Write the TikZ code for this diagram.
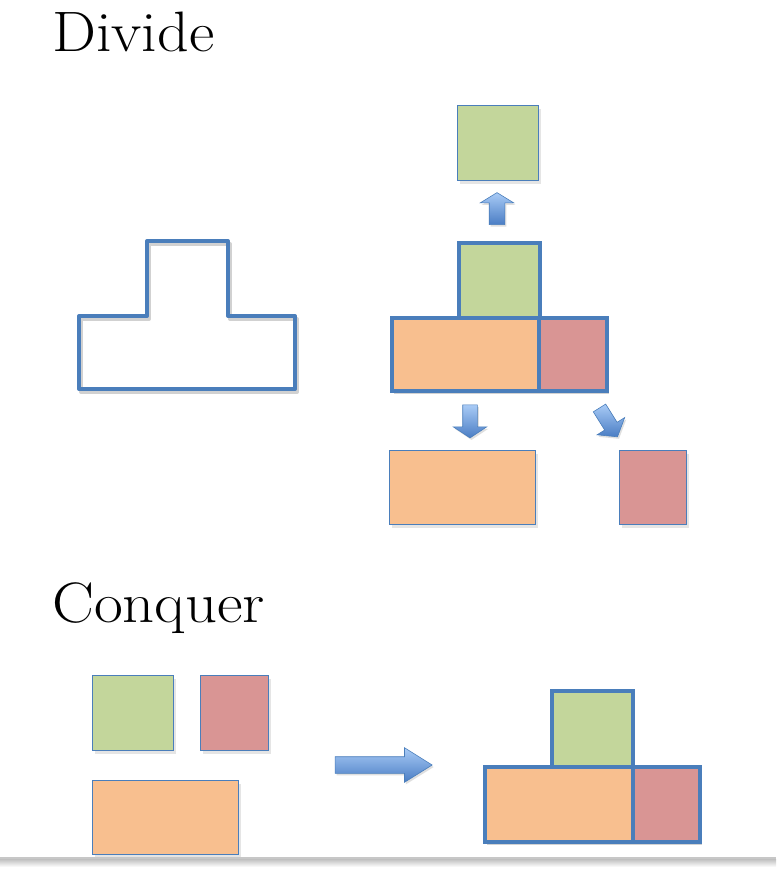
\documentclass[tikz,border=0pt]{standalone}
\usetikzlibrary{shapes.arrows,shadows}
\definecolor{edge}{HTML}{4A7EBB}
\definecolor{pgreen}{HTML}{C3D69B}
\definecolor{porange}{HTML}{F8BF8F}
\definecolor{pred}{HTML}{D99594}
\definecolor{alight}{HTML}{A9CBF6}
\definecolor{adark}{HTML}{4A7DC4}
\tikzset{
    piece/.style={draw=edge, anchor=north west, inner sep=0pt},
    loose/.style={piece, line width=1.4pt, drop shadow={shadow xshift=2pt, shadow yshift=-3pt, opacity=0.2}},
    joined/.style={piece, line width=3.5pt, drop shadow={shadow xshift=2pt, shadow yshift=-3pt, opacity=0.35}},
    gsq/.style={fill=pgreen, minimum width=81pt, minimum height=75pt},
    rsq/.style={fill=pred, minimum width=67pt, minimum height=74pt},
    orect/.style={fill=porange, minimum width=146pt, minimum height=74pt},
    blockarrow/.style={single arrow, draw=edge, line width=0.6pt, top color=alight, bottom color=adark,
        inner xsep=0pt, single arrow head indent=0pt, drop shadow={shadow xshift=1.5pt, shadow yshift=-2pt, opacity=0.25}},
    title/.style={anchor=base west, inner sep=0pt, font=\fontsize{57}{60}\selectfont}
}
\begin{document}
\begin{tikzpicture}[x=1pt,y=-1pt]
    \useasboundingbox[fill=white] (0,0) rectangle (776,869);

    \node[title] (divide) at (52,52) {\scalebox{1.09}[1]{Divide}};
    \node[title] (conquer) at (52,622) {\scalebox{1.1}[1]{Conquer}};

    % outline of the whole problem
    \draw[black, opacity=0.18, line width=4pt, line join=round, xshift=2pt, yshift=-3pt]
        (79,316) -- (147,316) -- (147,241) -- (228,241) -- (228,316) -- (295,316) -- (295,389) -- (79,389) -- cycle;
    \draw[edge, line width=4pt, line join=round]
        (79,316) -- (147,316) -- (147,241) -- (228,241) -- (228,316) -- (295,316) -- (295,389) -- (79,389) -- cycle;

    % divided
    \node[joined, gsq, minimum height=75pt] (dg) at (457,241) {};
    \node[joined, orect, minimum width=147pt, minimum height=73pt] (do) at (390,316) {};
    \node[joined, rsq, minimum width=68pt, minimum height=73pt] (dr) at (537,316) {};

    \node[loose, gsq] (g1) at (457,105) {};
    \node[loose, orect] (o1) at (389,450) {};
    \node[loose, rsq] (r1) at (619,450) {};

    \node[blockarrow, rotate=90, minimum height=32pt, inner ysep=7.5pt,
        single arrow head extend=9pt, single arrow tip angle=117] (up) at (497,211) {};
    \node[blockarrow, rotate=-90, minimum height=33pt, inner ysep=7pt,
        single arrow head extend=9.5pt, single arrow tip angle=113] (down) at (470,419) {};
    \node[blockarrow, rotate=-58, minimum height=34pt, inner ysep=7pt,
        single arrow head extend=9pt, single arrow tip angle=105] (diag) at (607,420) {};

    % conquered
    \node[loose, gsq] (g2) at (92,675) {};
    \node[loose, rsq, minimum width=68pt, minimum height=75pt] (r2) at (200,675) {};
    \node[loose, orect] (o2) at (92,780) {};

    \node[blockarrow, minimum height=97pt, inner ysep=8pt,
        single arrow head extend=9pt, single arrow tip angle=64] (right) at (377,765) {};

    \node[joined, gsq, minimum height=76pt] (cg) at (550,689) {};
    \node[joined, orect, minimum width=148pt, minimum height=75pt] (co) at (483,765) {};
    \node[joined, rsq, minimum height=75pt] (cr) at (631,765) {};

    % page edge
    \shade[top color=black!25, bottom color=white] (0,859) rectangle (776,867);
    \draw[black!22, line width=1.5pt] (0,858) -- (776,858);
\end{tikzpicture}
\end{document}
